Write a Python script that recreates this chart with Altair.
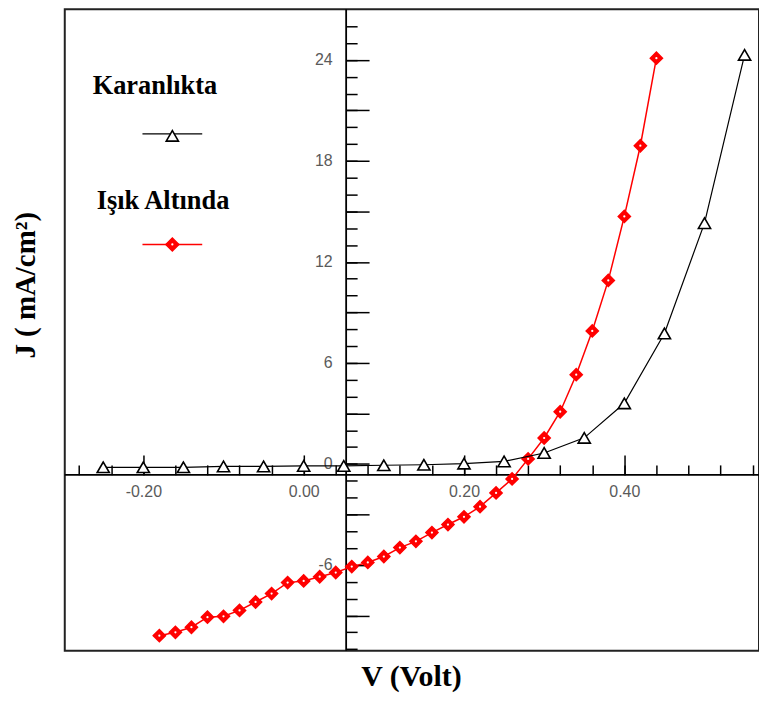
import altair as alt
import pandas as pd

# ---------------- data ----------------
V_DARK = [-0.25, -0.20, -0.15, -0.10, -0.05, 0.00, 0.05, 0.10, 0.15, 0.20,
          0.25, 0.30, 0.35, 0.40, 0.45, 0.50, 0.55]
J_DARK = [-0.2, -0.2, -0.2, -0.15, -0.15, -0.12, -0.12, -0.08, -0.05, 0.02,
          0.15, 0.65, 1.55, 3.6, 7.75, 14.3, 24.3]

V_LIGHT = [-0.18, -0.16, -0.14, -0.12, -0.10, -0.08, -0.06, -0.04, -0.02, 0.00,
           0.02, 0.04, 0.06, 0.08, 0.10, 0.12, 0.14, 0.16, 0.18, 0.20,
           0.22, 0.24, 0.26, 0.28, 0.30, 0.32, 0.34, 0.36, 0.38, 0.40,
           0.42, 0.44]
J_LIGHT = [-10.2, -10.0, -9.7, -9.1, -9.05, -8.7, -8.2, -7.7, -7.05, -6.95,
           -6.7, -6.45, -6.1, -5.85, -5.5, -4.97, -4.6, -4.08, -3.6, -3.14,
           -2.54, -1.72, -0.89, 0.3, 1.54, 3.1, 5.3, 7.9, 10.9, 14.7,
           18.9, 24.1]

SERIES = ["Karanlıkta", "Işık Altında"]
X_TITLE = "V (Volt)"
Y_TITLE = "J ( mA/cm²)"

X_MAJOR = [-0.20, 0.00, 0.20, 0.40]
X_MINOR = [-0.28, -0.24, -0.20, -0.16, -0.12, -0.08, -0.04, 0.00, 0.04, 0.08,
           0.12, 0.16, 0.20, 0.24, 0.28, 0.32, 0.36, 0.40, 0.44, 0.48,
           0.52, 0.56]
Y_MAJOR = [-9, -6, -3, 0, 3, 6, 9, 12, 15, 18, 21, 24]
Y_MINOR = list(range(-11, 27))

X_DOMAIN = [-0.298, 0.568]
Y_DOMAIN = [-11.1, 27.0]
X_CROSS = 0.053   # where the vertical axis crosses
Y_CROSS = -0.65   # where the horizontal axis crosses

# ---------------- layout ----------------
W, H = 697, 644
x_off = -(H * (Y_DOMAIN[1] - Y_CROSS) / (Y_DOMAIN[1] - Y_DOMAIN[0]))
y_off = -(W - W * (X_CROSS - X_DOMAIN[0]) / (X_DOMAIN[1] - X_DOMAIN[0]))

xscale = alt.Scale(domain=X_DOMAIN, nice=False, zero=False)
yscale = alt.Scale(domain=Y_DOMAIN, nice=False, zero=False)

dark = pd.DataFrame({"V": V_DARK, "J": J_DARK, "s": SERIES[0]})
light = pd.DataFrame({"V": V_LIGHT, "J": J_LIGHT, "s": SERIES[1]})

LABEL_FONT = "Liberation Sans"
TITLE_FONT = "Liberation Serif"

x_minor_axis = alt.Axis(orient="top", offset=x_off, values=X_MINOR, tickSize=10,
                        tickWidth=1.5, tickColor="black", labels=False, domain=False,
                        grid=False, title=None)
y_minor_axis = alt.Axis(orient="right", offset=y_off, values=Y_MINOR, tickSize=11,
                        tickWidth=1.5, tickColor="black", labels=False, domain=False,
                        grid=False, title=None)

x_major_axis = alt.Axis(orient="top", offset=x_off, values=X_MAJOR, tickSize=20,
                        tickWidth=1.5, tickColor="black", domain=False, grid=False,
                        title=None, labelPadding=-37, labelBaseline="middle",
                        labelFont=LABEL_FONT, labelFontSize=16, labelColor="#5a5a5a",
                        labelOverlap=False, labelFlush=False,
                        labelExpr="replace(format(datum.value, '.2f'), '\u2212', '-')")
y_major_axis = alt.Axis(orient="right", offset=y_off, values=Y_MAJOR, tickSize=23,
                        tickWidth=1.5, tickColor="black", domain=False, grid=False,
                        title=None, labelPadding=-37, labelAlign="right",
                        labelBaseline="middle", labelFont=LABEL_FONT, labelFontSize=16,
                        labelColor="#5a5a5a", labelOverlap=False, labelFlush=False,
                        labelExpr="datum.value % 6 == 0 ? replace(format(datum.value, 'd'), '\u2212', '-') : ''")

X = alt.X("V:Q", scale=xscale, axis=x_minor_axis)
Y = alt.Y("J:Q", scale=yscale, axis=y_minor_axis)

one = pd.DataFrame({"k": [0]})

# axis lines drawn through the scales at the crossing values
vline = alt.Chart(one).mark_rule(color="black", strokeWidth=1.8).encode(
    x=alt.X(datum=X_CROSS, scale=xscale, axis=x_minor_axis))
hline = alt.Chart(one).mark_rule(color="black", strokeWidth=1.8).encode(
    y=alt.Y(datum=Y_CROSS, scale=yscale, axis=y_minor_axis))

light_line = alt.Chart(light).mark_line(color="#ff0000", strokeWidth=1.5).encode(x=X, y=Y)
light_pts = alt.Chart(light).mark_point(shape="diamond", size=150, filled=True,
                                        color="#ff0000", stroke="#ff0000",
                                        strokeWidth=1.5, opacity=1).encode(x=X, y=Y)
light_dots = alt.Chart(light).mark_point(shape="circle", size=5, filled=True,
                                         color="white", opacity=1).encode(x=X, y=Y)
dark_line = alt.Chart(dark).mark_line(color="black", strokeWidth=1.2).encode(x=X, y=Y)
dark_pts = alt.Chart(dark).mark_point(shape="triangle-up", size=150, filled=True,
                                      fill="white", stroke="black", strokeWidth=1.6,
                                      opacity=1).encode(x=X, y=Y)


def txt(s, x, y, size, angle=0, align="center", baseline="middle"):
    kw = dict(font=TITLE_FONT, fontSize=size, fontWeight="bold", color="black",
              align=align, baseline=baseline)
    if angle:
        kw["angle"] = angle
    return alt.Chart(pd.DataFrame({"t": [s]})).mark_text(**kw).encode(
        x=alt.value(x), y=alt.value(y), text="t:N")


leg_dark_txt = txt(SERIES[0], 28, 77, 26.5, align="left")
leg_light_txt = txt(SERIES[1], 32, 192, 26.5, align="left")
leg_dark_line = alt.Chart(one).mark_rule(color="black", strokeWidth=1.2).encode(
    x=alt.value(78), x2=alt.value(138), y=alt.value(125))
leg_dark_sym = alt.Chart(one).mark_point(shape="triangle-up", size=150, filled=True,
                                         fill="white", stroke="black", strokeWidth=1.6,
                                         opacity=1).encode(x=alt.value(108), y=alt.value(127))
leg_light_line = alt.Chart(one).mark_rule(color="#ff0000", strokeWidth=1.5).encode(
    x=alt.value(78), x2=alt.value(138), y=alt.value(236))
leg_light_sym = alt.Chart(one).mark_point(shape="diamond", size=170, filled=True,
                                          color="#ff0000", stroke="#ff0000",
                                          strokeWidth=1.5, opacity=1).encode(
    x=alt.value(108), y=alt.value(236))
leg_light_dot = alt.Chart(one).mark_point(shape="circle", size=5, filled=True,
                                          color="white", opacity=1).encode(
    x=alt.value(108), y=alt.value(236))

x_title = txt(X_TITLE, 348, 679, 30, baseline="alphabetic")
y_title = txt(Y_TITLE, -39, 277, 29, angle=270)

main = alt.layer(vline, hline, light_line, light_pts, light_dots, dark_line, dark_pts,
                 leg_dark_txt, leg_dark_line, leg_dark_sym,
                 leg_light_txt, leg_light_line, leg_light_sym, leg_light_dot,
                 x_title, y_title)

majors = alt.Chart(light).mark_point(opacity=0).encode(
    x=alt.X("V:Q", scale=xscale, axis=x_major_axis),
    y=alt.Y("J:Q", scale=yscale, axis=y_major_axis))

chart = alt.layer(main, majors).resolve_axis(x="independent", y="independent").properties(
    width=W, height=H,
    autosize=alt.AutoSizeParams(type="none"),
    padding={"left": 57, "top": 0, "right": 0, "bottom": 42},
).configure_view(stroke="#222222", strokeWidth=2)

chart.save("out.html", embed_options={"renderer": "svg", "actions": False})
